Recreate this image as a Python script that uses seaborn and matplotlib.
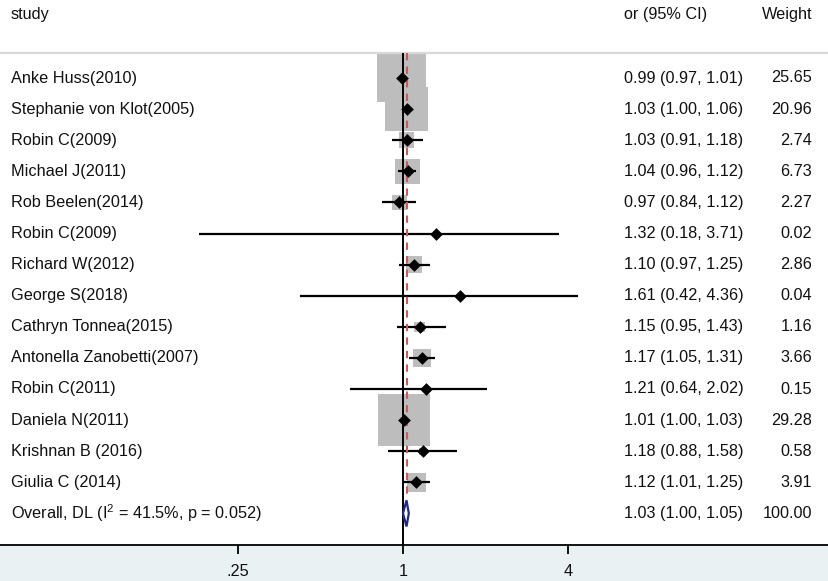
import matplotlib
matplotlib.use('Agg')
import numpy as np
import pandas as pd
import matplotlib.pyplot as plt
import seaborn as sns
from matplotlib.patches import Rectangle, Polygon

# Forest plot of study odds ratios
studies = ['Anke Huss(2010)', 'Stephanie von Klot(2005)', 'Robin C(2009)', 'Michael J(2011)',
           'Rob Beelen(2014)', 'Robin C(2009)', 'Richard W(2012)', 'George S(2018)',
           'Cathryn Tonnea(2015)', 'Antonella Zanobetti(2007)', 'Robin C(2011)',
           'Daniela N(2011)', 'Krishnan B (2016)', 'Giulia C (2014)']
or_vals = [0.99, 1.03, 1.03, 1.04, 0.97, 1.32, 1.10, 1.61, 1.15, 1.17, 1.21, 1.01, 1.18, 1.12]
ci_low = [0.97, 1.00, 0.91, 0.96, 0.84, 0.18, 0.97, 0.42, 0.95, 1.05, 0.64, 1.00, 0.88, 1.01]
ci_high = [1.01, 1.06, 1.18, 1.12, 1.12, 3.71, 1.25, 4.36, 1.43, 1.31, 2.02, 1.03, 1.58, 1.25]
weights = [25.65, 20.96, 2.74, 6.73, 2.27, 0.02, 2.86, 0.04, 1.16, 3.66, 0.15, 29.28, 0.58, 3.91]

overall_label = 'Overall, DL (I$^{2}$ = 41.5%, p = 0.052)'
overall_or, overall_lo, overall_hi, overall_w = 1.03, 1.00, 1.05, 100.00

tick_vals = [0.25, 1, 4]
tick_labels = ['.25', '1', '4']

df = pd.DataFrame({'study': studies, 'or': or_vals, 'lo': ci_low, 'hi': ci_high, 'weight': weights})
df['row'] = np.arange(len(df))
overall_row = len(df)

sns.set_style('white')
plt.rcParams['font.family'] = ['Liberation Sans', 'DejaVu Sans']
plt.rcParams['mathtext.fontset'] = 'custom'
plt.rcParams['mathtext.rm'] = 'Liberation Sans'
plt.rcParams['mathtext.it'] = 'Liberation Sans:italic'

W, H = 829, 581
fig = plt.figure(figsize=(W / 100, H / 100), dpi=100, facecolor='white')
ax = fig.add_axes([0, (H - 545) / H, 1, (545 - 53) / H])
fig.patches.append(Rectangle((0, 0), 1, (H - 545) / H, transform=fig.transFigure,
                             facecolor='#eaf1f3', edgecolor='none', zorder=-5))

fs = 11.7
txt_col = '#111111'

# weight boxes
sns.scatterplot(data=df, x='or', y='row', size='weight', sizes=(0, 47.8 * 30), size_norm=(0, 30),
                marker='s', color='#bdbdbd', linewidth=0, legend=False, ax=ax, zorder=2)
# confidence intervals
ax.hlines(df['row'], df['lo'], df['hi'], color='black', lw=1.6, zorder=3)
sns.scatterplot(data=df, x='or', y='row', marker='D', color='black', s=42, linewidth=0,
                legend=False, ax=ax, zorder=4)

ax.set_xscale('log', base=2)
ax.set_xlim(2 ** (-403 / 82.5), 2 ** ((W - 403) / 82.5))
ytop = (53 - 78) / 31.1
ybot = (545 - 78) / 31.1
ax.set_ylim(ybot, ytop)

# null line and overall dashed line
ax.axvline(1, color='black', lw=1.4, zorder=3)
dh = 0.42
ax.vlines(overall_or, ytop, overall_row - dh, color='#c65b5b', lw=1.5, linestyles=(0, (3.5, 3)), zorder=3)
diamond = Polygon([(overall_lo, overall_row), (overall_or, overall_row - dh),
                   (overall_hi, overall_row), (overall_or, overall_row + dh)],
                  closed=True, fill=False, edgecolor='#1f2a80', lw=1.6, zorder=5)
ax.add_patch(diamond)

# text columns
tr = ax.get_yaxis_transform()
x_name, x_ci, x_w = 11 / W, 624 / W, 812 / W
for _, r in df.iterrows():
    ax.text(x_name, r['row'], r['study'], transform=tr, va='center', ha='left', fontsize=fs, color=txt_col)
    ax.text(x_ci, r['row'], f"{r['or']:.2f} ({r['lo']:.2f}, {r['hi']:.2f})", transform=tr,
            va='center', ha='left', fontsize=fs, color=txt_col)
    ax.text(x_w, r['row'], f"{r['weight']:.2f}", transform=tr, va='center', ha='right',
            fontsize=fs, color=txt_col)
ax.text(x_name, overall_row, overall_label, transform=tr, va='center', ha='left', fontsize=fs, color=txt_col)
ax.text(x_ci, overall_row, f"{overall_or:.2f} ({overall_lo:.2f}, {overall_hi:.2f})", transform=tr,
        va='center', ha='left', fontsize=fs, color=txt_col)
ax.text(x_w, overall_row, f"{overall_w:.2f}", transform=tr, va='center', ha='right', fontsize=fs, color=txt_col)

fig.text(x_name, 1 - 15 / H, 'study', va='center', ha='left', fontsize=fs, color=txt_col)
fig.text(x_ci, 1 - 15 / H, 'or (95% CI)', va='center', ha='left', fontsize=fs, color=txt_col)
fig.text(x_w, 1 - 15 / H, 'Weight', va='center', ha='right', fontsize=fs, color=txt_col)

# axes styling
for s in ['left', 'right']:
    ax.spines[s].set_visible(False)
ax.spines['top'].set_color('#d9d9d9')
ax.spines['top'].set_linewidth(1.6)
ax.spines['bottom'].set_color('black')
ax.spines['bottom'].set_linewidth(1.3)
ax.set_yticks([])
ax.set_xticks(tick_vals)
ax.set_xticklabels(tick_labels, fontsize=fs, color=txt_col)
ax.minorticks_off()
ax.tick_params(axis='x', direction='out', length=6.5, width=1.3, color='black', pad=7, bottom=True)
ax.set_xlabel('')
ax.set_ylabel('')

fig.savefig('out.png', dpi=100, facecolor=fig.get_facecolor())
